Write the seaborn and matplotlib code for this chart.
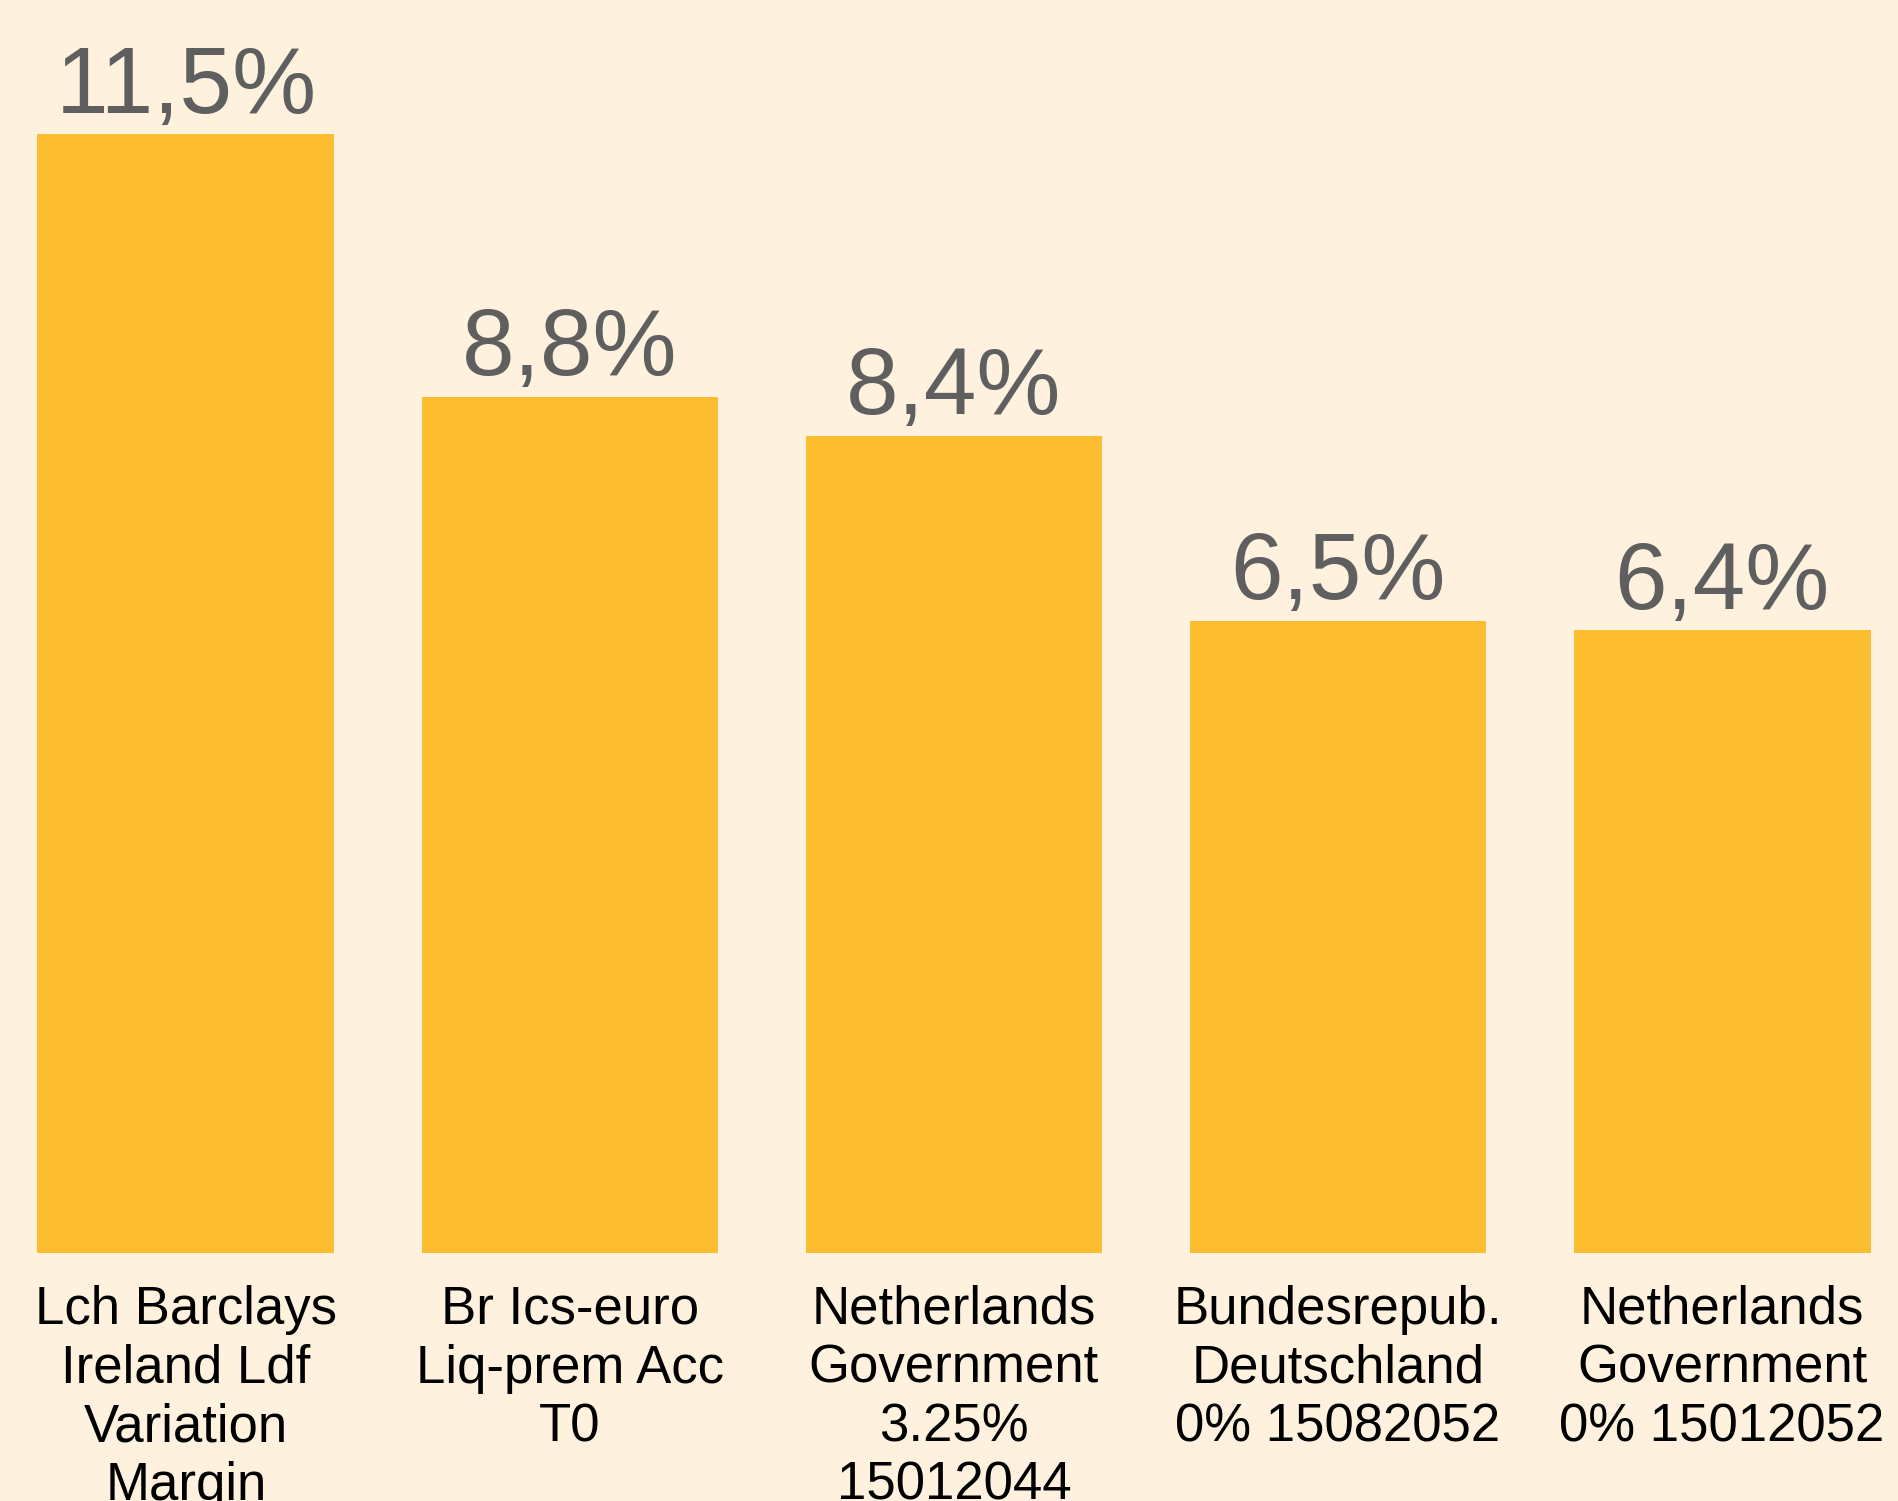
import matplotlib
matplotlib.use("Agg")
import matplotlib.pyplot as plt
import seaborn as sns
import pandas as pd

# data
labels = [
    "Lch Barclays\nIreland Ldf\nVariation\nMargin",
    "Br Ics-euro\nLiq-prem Acc\nT0",
    "Netherlands\nGovernment\n3.25%\n15012044",
    "Bundesrepub.\nDeutschland\n0% 15082052",
    "Netherlands\nGovernment\n0% 15012052",
]
weights = [11.5, 8.8, 8.4, 6.5, 6.4]

bg = "#FEF2DE"
bar_color = "#FCBD31"

sns.set_style("white")
plt.rcParams["font.family"] = ["Liberation Sans", "DejaVu Sans"]

df = pd.DataFrame({"holding": labels, "weight": weights})

fig = plt.figure(figsize=(18.98, 15.01), dpi=100, facecolor=bg)
# axes placed so the bar baseline sits where the reference has it
ax = fig.add_axes([0, 248 / 1501, 1, 1253 / 1501])
ax.set_facecolor(bg)

sns.barplot(data=df, x="holding", y="weight", color=bar_color,
            width=0.773, saturation=1, linewidth=0, ax=ax)

ax.set_xlim(-0.484, 4.458)
ax.set_ylim(0, 12.878)

for i, v in enumerate(weights):
    ax.annotate(f"{v:.1f}".replace(".", ",") + "%", (i, v),
                xytext=(0, 1), textcoords="offset points",
                ha="center", va="bottom", fontsize=68, color="#5F5F5F")

ax.set_xlabel("")
ax.set_ylabel("")
ax.set_yticks([])
ax.tick_params(axis="x", length=0, pad=23, labelsize=38, labelcolor="black")
for t in ax.get_xticklabels():
    t.set_linespacing(1.22)
sns.despine(ax=ax, left=True, bottom=True)

fig.savefig("out.png", dpi=100, facecolor=bg)
